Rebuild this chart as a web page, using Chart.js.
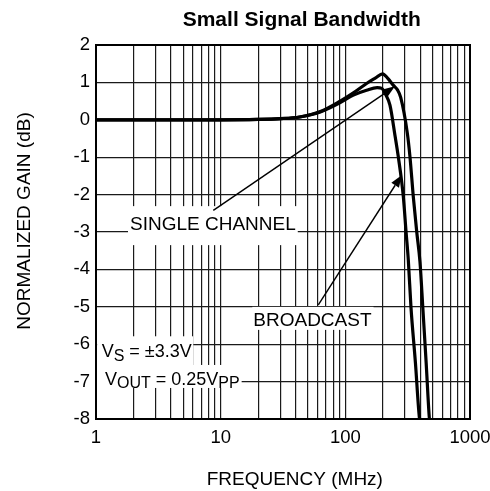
<!DOCTYPE html>
<html>
<head>
<meta charset="utf-8">
<script src="https://cdn.jsdelivr.net/npm/chart.js@4.4.1/dist/chart.umd.min.js"></script>
<style>
  html, body { margin: 0; padding: 0; background: #fff; }
  #wrap { width: 490px; height: 491px; }
</style>
</head>
<body>
<div id="wrap"><canvas id="bandwidthChart" width="490" height="491"></canvas></div>
<script>
// Frequency (MHz) / normalized gain (dB)
const freqSingle = [1, 2, 5, 10, 20, 30, 43, 63, 91, 116, 148, 180, 196, 210, 228, 250, 266, 292, 307, 320, 336, 365, 392, 395];
const gainSingle = [0, 0, 0, 0, 0.01, 0.03, 0.075, 0.21, 0.46, 0.66, 0.79, 0.86, 0.84, 0.68, 0.39, -0.41, -0.99, -2.06, -3.0, -3.75, -5.0, -6.5, -7.94, -8];

const freqBroadcast = [1, 2, 5, 10, 20, 30, 43, 63, 91, 116, 148, 175, 199, 220, 243, 262, 278, 314, 330, 351, 374, 397, 418, 445, 471, 473];
const gainBroadcast = [0, 0, 0, 0, 0.01, 0.03, 0.075, 0.22, 0.5, 0.72, 0.97, 1.12, 1.23, 1.1, 0.92, 0.8, 0.6, -0.35, -0.99, -2.06, -3.0, -3.8, -5.0, -6.5, -7.94, -8];

const xTickLabels = [1, 10, 100, 1000];
const yMin = -8;
const yMax = 2;

const FONT = '"Liberation Sans", Arial, sans-serif';

// label anchors (text left / baseline) and arrows, in data units
const labelSingle = { f: 1.874, g: -2.95, text: 'SINGLE CHANNEL' };
const labelBroadcast = { f: 18.27, g: -5.51, text: 'BROADCAST' };
const labelVs = { f: 1.11, g: -6.35 };
const labelVout = { f: 1.18, g: -7.09 };
const arrowSingle = { from: [8.73, -2.42], to: [250, 0.895] };
const arrowBroadcast = { from: [60.7, -4.95], to: [283, -1.48] };

function toPoints(xs, ys) {
    return xs.map((x, i) => ({ x: x, y: ys[i] }));
}

function drawArrow(ctx, x1, y1, x2, y2) {
    const a = Math.atan2(y2 - y1, x2 - x1);
    const len = 12, w = 4.5;
    const bx = x2 - len * Math.cos(a), by = y2 - len * Math.sin(a);
    ctx.beginPath();
    ctx.moveTo(x1, y1);
    ctx.lineTo(bx, by);
    ctx.lineWidth = 1.4;
    ctx.stroke();
    ctx.beginPath();
    ctx.moveTo(x2, y2);
    ctx.lineTo(bx + w * Math.sin(a), by - w * Math.cos(a));
    ctx.lineTo(bx - w * Math.sin(a), by + w * Math.cos(a));
    ctx.closePath();
    ctx.fill();
}

// text with subscripts: parts = [[text, isSub], ...]
function richWidth(ctx, parts) {
    let w = 0;
    parts.forEach(p => {
        ctx.font = (p[1] ? '16px ' : '18px ') + FONT;
        w += ctx.measureText(p[0]).width;
    });
    return w;
}
function drawRich(ctx, parts, x, y) {
    parts.forEach(p => {
        ctx.font = (p[1] ? '16px ' : '18px ') + FONT;
        ctx.fillText(p[0], x, p[1] ? y + 3.5 : y);
        x += ctx.measureText(p[0]).width;
    });
}

const annotations = {
    id: 'annotations',
    afterDatasetsDraw(chart) {
        const ctx = chart.ctx;
        const px = f => chart.scales.x.getPixelForValue(f);
        const py = g => chart.scales.y.getPixelForValue(g);
        ctx.save();
        ctx.fillStyle = '#000';
        ctx.strokeStyle = '#000';
        ctx.textBaseline = 'alphabetic';
        ctx.textAlign = 'left';

        // white boxes behind the labels
        ctx.font = '19px ' + FONT;
        const sx = px(labelSingle.f), sy = py(labelSingle.g);
        const sw = ctx.measureText(labelSingle.text).width;
        const bx = px(labelBroadcast.f), by = py(labelBroadcast.g);
        const bw = ctx.measureText(labelBroadcast.text).width;

        const vsParts = [['V', false], ['S', true], [' = \u00b13.3V', false]];
        const voParts = [['V', false], ['OUT', true], [' = 0.25V', false], ['PP', true]];
        const vx = px(labelVs.f), vy = py(labelVs.g);
        const ox = px(labelVout.f), oy = py(labelVout.g);
        const vw = richWidth(ctx, vsParts);
        const ow = richWidth(ctx, voParts);

        ctx.fillStyle = '#fff';
        ctx.fillRect(sx - 2, sy - 24, sw + 4, 39);
        ctx.fillRect(bx - 1, by - 19, bw + 3, 23);
        ctx.fillRect(vx - 4.5, vy - 21, vw + 6, 30);
        ctx.fillRect(ox - 8, oy - 20, ow + 10, 23);

        ctx.fillStyle = '#000';
        drawArrow(ctx, px(arrowSingle.from[0]), py(arrowSingle.from[1]), px(arrowSingle.to[0]), py(arrowSingle.to[1]));
        drawArrow(ctx, px(arrowBroadcast.from[0]), py(arrowBroadcast.from[1]), px(arrowBroadcast.to[0]), py(arrowBroadcast.to[1]));

        ctx.font = '19px ' + FONT;
        ctx.fillText(labelSingle.text, sx, sy);
        ctx.fillText(labelBroadcast.text, bx, by);
        drawRich(ctx, vsParts, vx, vy);
        drawRich(ctx, voParts, ox, oy);

        // frame
        const a = chart.chartArea;
        ctx.lineWidth = 2;
        ctx.strokeRect(a.left, a.top, a.right - a.left, a.bottom - a.top);
        ctx.restore();
    },
    afterDraw(chart) {
        const ctx = chart.ctx;
        ctx.save();
        ctx.fillStyle = '#000';
        ctx.textAlign = 'center';
        ctx.textBaseline = 'alphabetic';
        ctx.font = 'bold 21px ' + FONT;
        ctx.fillText('Small Signal Bandwidth', 301.7, 26);
        ctx.textBaseline = 'middle';
        ctx.font = '19px ' + FONT;
        ctx.fillText('FREQUENCY (MHz)', 294.8, 480);
        ctx.translate(25, 221);
        ctx.rotate(-Math.PI / 2);
        ctx.fillText('NORMALIZED GAIN (dB)', 0, 0);
        ctx.restore();
    }
};

const ctxBandwidth = document.getElementById('bandwidthChart').getContext('2d');
new Chart(ctxBandwidth, {
    type: 'line',
    data: {
        datasets: [{
            label: 'Single channel',
            data: toPoints(freqSingle, gainSingle),
            borderColor: '#000',
            borderWidth: 3.2,
            pointRadius: 0,
            cubicInterpolationMode: 'monotone',
            fill: false
        }, {
            label: 'Broadcast',
            data: toPoints(freqBroadcast, gainBroadcast),
            borderColor: '#000',
            borderWidth: 3.2,
            pointRadius: 0,
            cubicInterpolationMode: 'monotone',
            fill: false
        }]
    },
    options: {
        responsive: false,
        animation: false,
        layout: { padding: { top: 45, right: 20, left: 0, bottom: 0 } },
        plugins: {
            legend: { display: false },
            tooltip: { enabled: false }
        },
        scales: {
            x: {
                type: 'logarithmic',
                min: 1,
                max: 1000,
                afterBuildTicks: function(scale) {
                    const ticks = [];
                    for (let d = 1; d < 1000; d *= 10) {
                        for (let m = 1; m < 10; m++) ticks.push({ value: m * d });
                    }
                    ticks.push({ value: 1000 });
                    scale.ticks = ticks;
                },
                afterFit: function(scale) {
                    scale.height = 72;
                    scale.paddingLeft = 0;
                    scale.paddingRight = 0;
                },
                grid: { color: '#1a1a1a', lineWidth: 1.2, drawTicks: false },
                border: { display: true, color: '#000', width: 2 },
                ticks: {
                    autoSkip: false,
                    maxRotation: 0,
                    padding: 8,
                    color: '#000',
                    font: { family: FONT, size: 18.5 },
                    callback: function(value) {
                        return xTickLabels.includes(value) ? String(value) : '';
                    }
                }
            },
            y: {
                min: yMin,
                max: yMax,
                afterFit: function(scale) {
                    scale.width = 96;
                    scale.paddingTop = 0;
                    scale.paddingBottom = 0;
                },
                grid: { color: '#1a1a1a', lineWidth: 1.2, drawTicks: false },
                border: { display: true, color: '#000', width: 2 },
                ticks: {
                    stepSize: 1,
                    padding: 6,
                    color: '#000',
                    font: { family: FONT, size: 18.5 }
                }
            }
        }
    },
    plugins: [annotations]
});
</script>
</body>
</html>
